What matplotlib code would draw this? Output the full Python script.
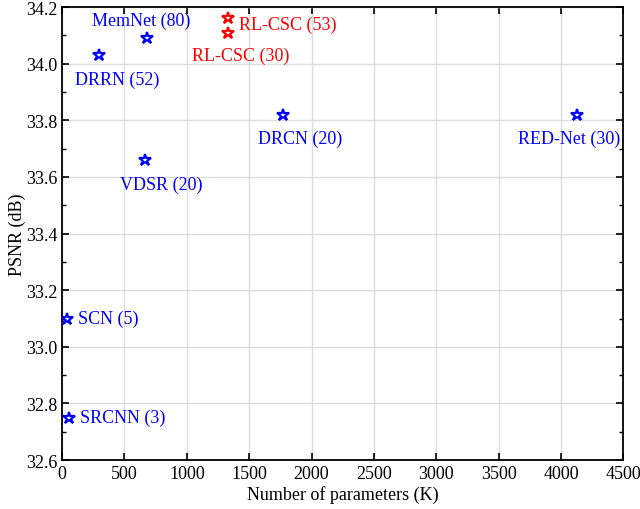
import matplotlib
matplotlib.use("Agg")
import matplotlib.pyplot as plt
from matplotlib.ticker import MultipleLocator

# model names, parameter counts (K) and PSNR (dB)
names = ["SRCNN (3)", "SCN (5)", "DRRN (52)", "VDSR (20)", "MemNet (80)",
         "DRCN (20)", "RED-Net (30)", "RL-CSC (53)", "RL-CSC (30)"]
params = [57, 42, 297, 665, 677, 1774, 4131, 1331, 1331]
psnr = [32.75, 33.10, 34.03, 33.66, 34.09, 33.82, 33.82, 34.16, 34.11]
colors = ["blue"] * 7 + ["red"] * 2

# label placement: offset in points and alignment
label_pos = {
    "SRCNN (3)": ((8, 0), "left", "center"),
    "SCN (5)": ((8, 0), "left", "center"),
    "DRRN (52)": ((13, -11), "center", "top"),
    "VDSR (20)": ((12, -11), "center", "top"),
    "MemNet (80)": ((-4, 7), "center", "bottom"),
    "DRCN (20)": ((12, -11), "center", "top"),
    "RED-Net (30)": ((-6, -11), "center", "top"),
    "RL-CSC (53)": ((8, -4), "left", "center"),
    "RL-CSC (30)": ((9, -10), "center", "top"),
}

plt.rcParams["font.family"] = ["Liberation Serif", "DejaVu Serif"]
plt.rcParams["font.size"] = 13

fig = plt.figure(figsize=(6.4, 5.1), dpi=100)
ax = fig.add_axes([0.097, 0.096, 0.877, 0.888])

for x, y, c, n in zip(params, psnr, colors, names):
    ax.plot(x, y, marker="*", markersize=9, markerfacecolor="none",
            markeredgecolor=c, markeredgewidth=1.6, linestyle="none", zorder=3)
    off, ha, va = label_pos[n]
    ax.annotate(n, (x, y), xytext=off, textcoords="offset points",
                ha=ha, va=va, color=c, fontsize=13)

ax.set_xlim(0, 4500)
ax.set_ylim(32.6, 34.2)
ax.xaxis.set_major_locator(MultipleLocator(500))
ax.yaxis.set_major_locator(MultipleLocator(0.2))
ax.yaxis.set_minor_locator(MultipleLocator(0.1))
ax.yaxis.set_major_formatter(matplotlib.ticker.FormatStrFormatter("%.1f"))
ax.tick_params(which="both", direction="in", top=True, right=True, labelsize=13)
ax.tick_params(which="major", length=5, width=1.2)
ax.tick_params(which="minor", length=3, width=1)
ax.grid(True, color="#dddddd", linewidth=1)
ax.set_axisbelow(True)
for s in ax.spines.values():
    s.set_linewidth(1.3)

ax.set_xlabel("Number of parameters (K)", labelpad=2)
ax.set_ylabel("PSNR (dB)", labelpad=0)

fig.savefig("out.png", dpi=100)
